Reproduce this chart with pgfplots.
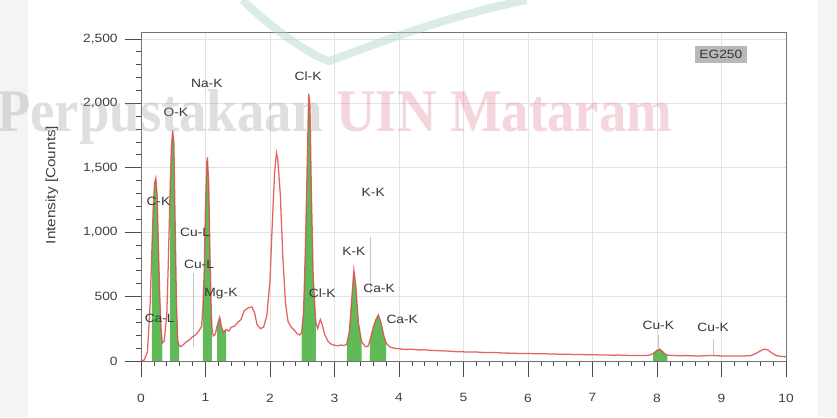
\documentclass[border=0pt]{standalone}
\usepackage{fontspec}
\setmainfont{Liberation Sans}[FakeStretch=1.15]
\newfontfamily\wmfont{Liberation Serif}
\usepackage{pgfplots}
\pgfplotsset{compat=1.18}
\definecolor{spec}{RGB}{226,72,72}
\definecolor{peak}{RGB}{96,186,88}
\definecolor{lbl}{RGB}{55,55,55}
\definecolor{wmgray}{RGB}{150,150,150}
\definecolor{wmpink}{RGB}{225,120,145}
\definecolor{logo}{RGB}{175,215,195}

\pgfplotstableread{
x y
0.00 0
0.05 8
0.10 70
0.14 420
0.17 880
0.19 1200
0.21 1380
0.23 1420
0.25 1290
0.27 900
0.29 520
0.31 260
0.33 140
0.36 155
0.40 360
0.42 700
0.45 1300
0.47 1650
0.49 1790
0.51 1690
0.53 1050
0.55 450
0.57 160
0.59 120
0.62 112
0.66 128
0.70 148
0.75 165
0.80 188
0.85 205
0.90 235
0.94 270
0.96 420
0.98 700
1.00 1200
1.02 1540
1.03 1580
1.05 1380
1.07 820
1.09 380
1.10 260
1.12 195
1.15 205
1.18 270
1.22 340
1.25 262
1.28 222
1.32 245
1.36 232
1.40 262
1.45 270
1.50 300
1.55 322
1.60 390
1.66 412
1.72 420
1.76 375
1.80 282
1.85 252
1.90 262
1.95 350
2.00 620
2.03 1000
2.07 1450
2.10 1615
2.12 1570
2.16 1290
2.20 800
2.24 450
2.28 305
2.33 262
2.38 238
2.42 212
2.46 202
2.49 220
2.52 380
2.55 900
2.58 1600
2.60 2075
2.62 1980
2.64 1350
2.67 650
2.71 300
2.74 252
2.78 322
2.81 282
2.85 202
2.90 152
2.95 130
3.00 122
3.05 118
3.10 124
3.15 120
3.19 130
3.23 230
3.27 500
3.30 706
3.33 590
3.37 300
3.42 150
3.48 110
3.52 115
3.55 160
3.60 260
3.64 320
3.68 357
3.72 300
3.77 185
3.80 140
3.85 112
3.90 102
3.95 98
4.00 95
4.10 90
4.20 92
4.30 86
4.40 87
4.50 82
4.60 80
4.70 78
4.80 76
4.90 72
5.00 71
5.10 69
5.20 70
5.30 66
5.40 65
5.50 66
5.60 62
5.70 61
5.80 60
5.90 58
6.00 59
6.10 56
6.20 57
6.30 55
6.40 55
6.50 52
6.60 53
6.70 50
6.80 51
6.90 48
7.00 49
7.10 47
7.20 47
7.30 45
7.40 46
7.50 44
7.60 43
7.70 43
7.80 42
7.88 45
7.94 58
8.00 82
8.04 93
8.08 76
8.12 56
8.16 46
8.25 43
8.35 41
8.45 42
8.55 40
8.65 39
8.75 41
8.85 43
8.95 40
9.05 39
9.15 38
9.25 38
9.35 39
9.45 42
9.52 55
9.60 78
9.66 92
9.72 86
9.78 62
9.85 42
9.92 36
10.00 33
}\spectrum

\begin{document}
\begin{tikzpicture}
\path[use as bounding box, fill=white] (0,0) rectangle (627.75pt,312.75pt);
\fill[gray!9] (0,0) rectangle (21pt,312.75pt);
\fill[gray!9] (613.5pt,0) rectangle (627.75pt,312.75pt);

\begin{axis}[
  at={(105.75pt,42pt)}, anchor=south west,
  scale only axis, width=483.75pt, height=246.75pt,
  xmin=0, xmax=10, ymin=0, ymax=2554,
  xtick={0,1,...,10}, ytick={0,500,...,2500},
  minor x tick num=4, minor y tick num=4,
  xtick pos=bottom, ytick pos=left,
  grid=major, major grid style={gray!22, line width=0.6pt},
  axis line style={black!55, line width=0.7pt},
  tick align=outside, major tick length=12pt, minor tick length=3.5pt,
  tick style={black!70, line width=0.6pt},
  tick label style={font=\fontsize{9}{10}\selectfont, text=black!75},
  xticklabel style={yshift=-9pt},
  yticklabel style={xshift=-2pt},
  /pgf/number format/assume math mode=true,
  /pgf/number format/1000 sep={,},
  ylabel={Intensity [Counts]},
  every axis y label/.style={at={(axis description cs:-0.138,0.535)}, rotate=90, anchor=center, font=\fontsize{10}{11}\selectfont, text=black!75},
  clip=false,
]
% peak areas
\addplot[fill=peak, draw=none] table[x=x,y=y, restrict x to domain=0.17:0.33] {\spectrum} \closedcycle;
\addplot[fill=peak, draw=none] table[x=x,y=y, restrict x to domain=0.45:0.59] {\spectrum} \closedcycle;
\addplot[fill=peak, draw=none] table[x=x,y=y, restrict x to domain=0.96:1.10] {\spectrum} \closedcycle;
\addplot[fill=peak, draw=none] table[x=x,y=y, restrict x to domain=1.18:1.32] {\spectrum} \closedcycle;
\addplot[fill=peak, draw=none] table[x=x,y=y, restrict x to domain=2.49:2.71] {\spectrum} \closedcycle;
\addplot[fill=peak, draw=none] table[x=x,y=y, restrict x to domain=3.19:3.42] {\spectrum} \closedcycle;
\addplot[fill=peak, draw=none] table[x=x,y=y, restrict x to domain=3.55:3.80] {\spectrum} \closedcycle;
\addplot[fill=peak, draw=none] table[x=x,y=y, restrict x to domain=7.94:8.16] {\spectrum} \closedcycle;
% marker lines
\addplot[gray!45, line width=0.5pt] coordinates {(0.81,110) (0.81,680)};
\addplot[gray!45, line width=0.5pt] coordinates {(3.56,520) (3.56,960)};
\addplot[gray!45, line width=0.5pt] coordinates {(8.02,100) (8.02,200)};
\addplot[gray!45, line width=0.5pt] coordinates {(8.88,45) (8.88,170)};
% spectrum
\addplot[spec, line width=0.95pt, opacity=0.85] table[x=x,y=y] {\spectrum};
% labels
\begin{scope}[every node/.style={font=\fontsize{9}{10}\selectfont, text=lbl, inner sep=1pt}]
\node at (axis cs:1.02,2158) {Na-K};
\node at (axis cs:0.54,1933) {O-K};
\node at (axis cs:2.59,2213) {Cl-K};
\node at (axis cs:0.27,1242) {C-K};
\node at (axis cs:0.84,1001) {Cu-L};
\node at (axis cs:0.90,753) {Cu-L};
\node at (axis cs:1.24,520) {Mg-K};
\node at (axis cs:0.29,334) {Ca-L};
\node at (axis cs:2.81,528) {Cl-K};
\node at (axis cs:3.60,1312) {K-K};
\node at (axis cs:3.30,854) {K-K};
\node at (axis cs:3.69,567) {Ca-K};
\node at (axis cs:4.05,326) {Ca-K};
\node at (axis cs:8.02,280) {Cu-K};
\node at (axis cs:8.87,264) {Cu-K};
\node[fill=black!28, inner sep=3.2pt] at (axis cs:8.99,2383) {EG250};
\end{scope}
\end{axis}

% watermark
\draw[line width=6pt, logo, opacity=0.45] (182pt,312.75pt) .. controls (205pt,290pt) and (235pt,270pt) .. (247pt,267pt) .. controls (270pt,275pt) and (330pt,300pt) .. (395pt,312.75pt);
\node[anchor=base west, inner sep=0pt, opacity=0.3] at (-2.25pt,213.75pt)
  {\resizebox{506pt}{31.5pt}{\wmfont\bfseries \textcolor{wmgray}{Perpustakaan} \textcolor{wmpink}{UIN Mataram}}};
\end{tikzpicture}
\end{document}
